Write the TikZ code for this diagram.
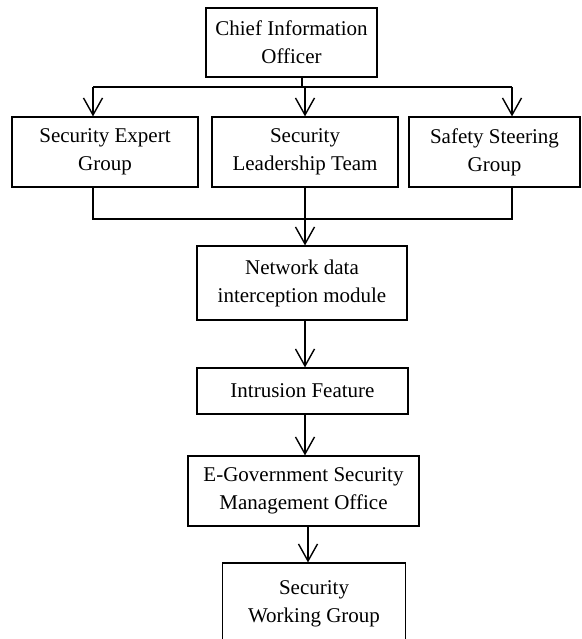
\documentclass[tikz,border=0pt]{standalone}
\usepackage{fontspec}
\setmainfont{Liberation Serif}
\usetikzlibrary{arrows.meta}

\begin{document}
\begin{tikzpicture}[
  x=1pt, y=-1pt,
  box/.style={rectangle, draw=black, line width=1.2pt, align=center, inner sep=0pt, fill=white, font=\fontsize{21}{28}\selectfont},
  arrow/.style={-{Straight Barb[length=17pt,width=19pt]}, line width=1.4pt},
  link/.style={line width=1.3pt}
]
\useasboundingbox (0,0) rectangle (581,639);

% top
\node[box, minimum width=171, minimum height=69] (cio) at (291.5,42.5) {Chief Information\\Officer};

% second row
\node[box, minimum width=186, minimum height=70] (expert) at (105,152) {Security Expert\\Group};
\node[box, minimum width=186, minimum height=70] (leader) at (305,152) {Security\\Leadership Team};
\node[box, minimum width=171, minimum height=70] (steering) at (494.5,152) {Safety Steering\\Group};

% chain below
\node[box, minimum width=210, minimum height=74] (network) at (302,283) {Network data\\interception module};
\node[box, minimum width=211, minimum height=46] (intrusion) at (302.5,391) {Intrusion Feature};
\node[box, minimum width=231, minimum height=70] (egov) at (303.5,491) {E-Government Security\\Management Office};
\node[box, minimum width=183, minimum height=82] (working) at (314,604) {Security\\Working Group};

% upper bus
\coordinate (split) at (302,87);
\coordinate (busL) at (93,87);
\coordinate (busR) at (512,87);
\draw[link] (split |- cio.south) -- (split);
\draw[link] (busL) -- (busR);
\draw[arrow] (busL) -- (busL |- expert.north);
\draw[arrow] (leader.north |- busL) -- (leader.north);
\draw[arrow] (busR) -- (busR |- steering.north);

% lower bus
\coordinate (joinL) at (93,219);
\coordinate (joinR) at (512,219);
\draw[link] (joinL |- expert.south) -- (joinL) -- (joinR) -- (joinR |- steering.south);
\draw[arrow] (leader.south) -- (leader.south |- network.north);

% chain arrows
\coordinate (spine) at (305,0);
\draw[arrow] (spine |- network.south) -- (spine |- intrusion.north);
\draw[arrow] (spine |- intrusion.south) -- (spine |- egov.north);
\coordinate (spine2) at (308,0);
\draw[arrow] (spine2 |- egov.south) -- (spine2 |- working.north);
\end{tikzpicture}
\end{document}
